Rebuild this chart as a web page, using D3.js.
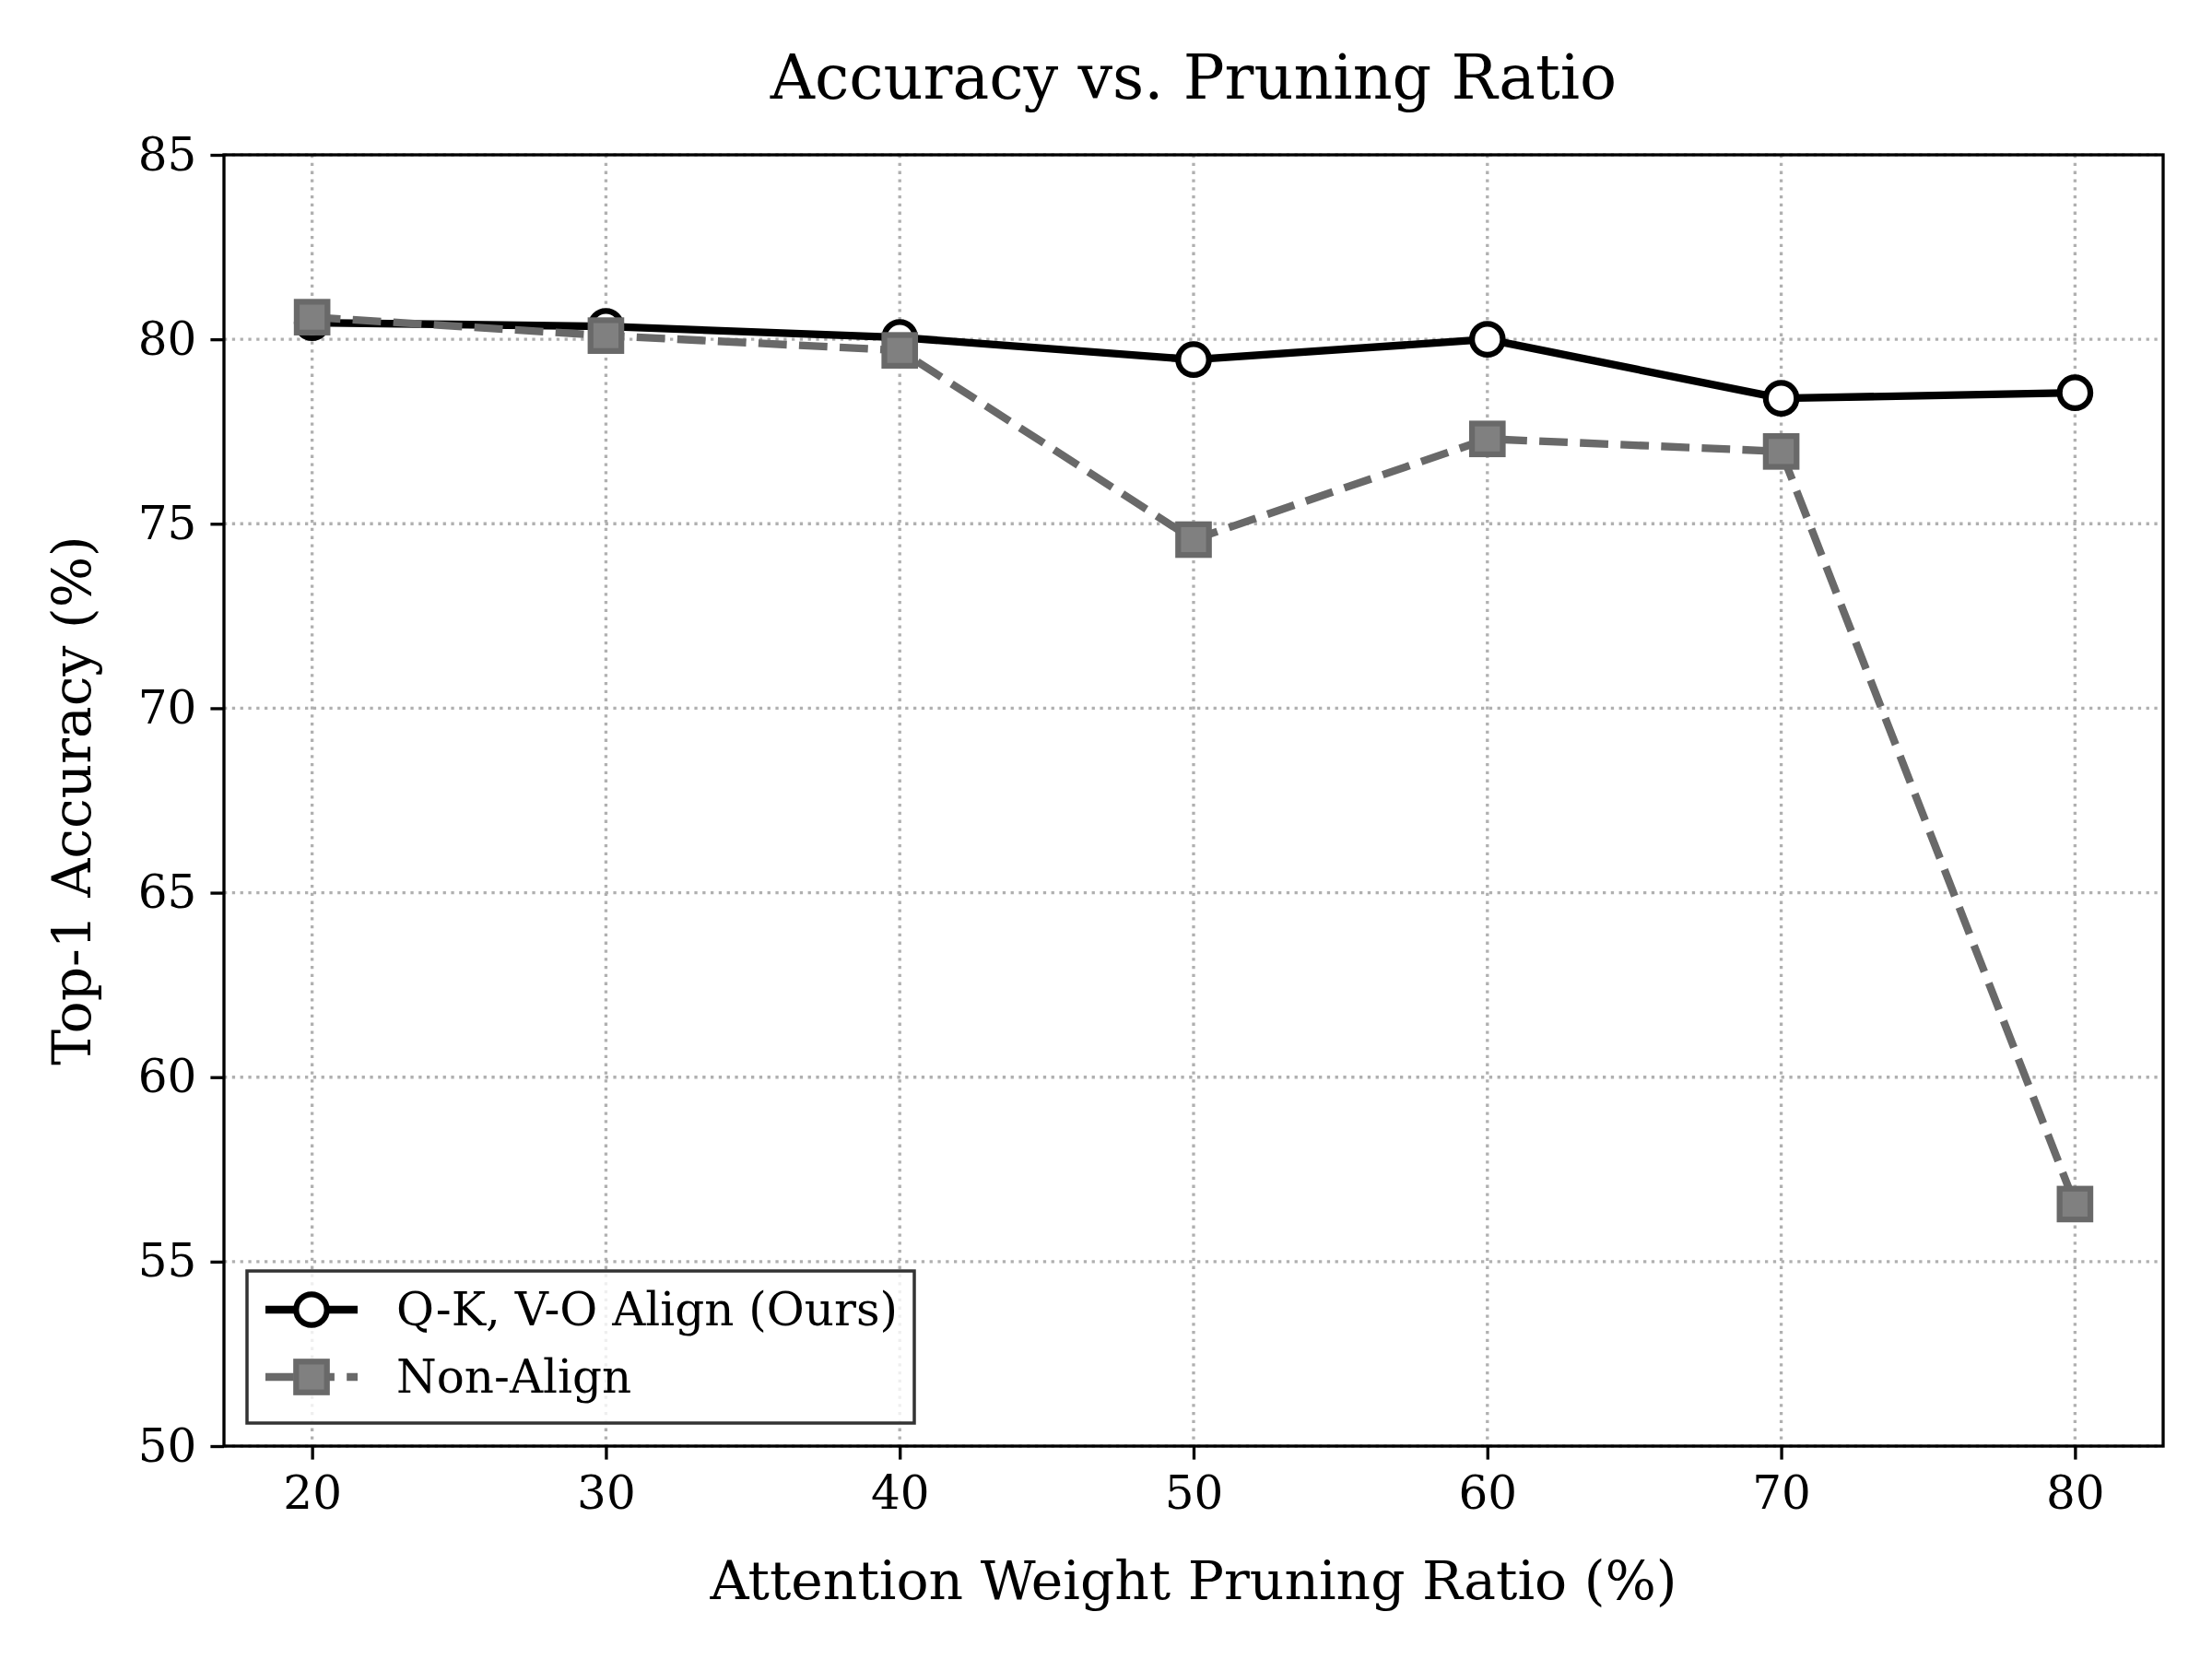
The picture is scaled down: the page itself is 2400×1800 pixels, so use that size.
<!DOCTYPE html>
<html>
<head>
<meta charset="utf-8"/>
<script src="https://d3js.org/d3.v7.min.js"></script>
<style>
  body { margin: 0; background: #ffffff; }
  text { font-family: "DejaVu Serif", serif; }
</style>
</head>
<body>
<script>
 // data
 var ratios = [20, 30, 40, 50, 60, 70, 80];
 var oursAcc = [80.45, 80.35, 80.05, 79.45, 80.0, 78.4, 78.55];
 var nonAlignAcc = [80.6, 80.1, 79.7, 74.57, 77.3, 76.96, 56.56];
 var xTicks = [20, 30, 40, 50, 60, 70, 80];
 var yTicks = [50, 55, 60, 65, 70, 75, 80, 85];
 var seriesNames = ["Q-K, V-O Align (Ours)", "Non-Align"];

 //globals (note: "top" is taken by window.top, so use plot* names)
 var W = 2400, H = 1800;
 var plotL = 243, plotR = 2347, plotT = 168, plotB = 1569;
 var lw = 8.33;          // 2pt at 300dpi
 var gridW = 3.33;       // 0.8pt

 var svg = d3.select("body").append("svg")
   .attr("width", W)
   .attr("height", H);

 svg.append("rect").attr("width", W).attr("height", H).attr("fill", "#fff");

 var x = d3.scaleLinear().domain([17, 83]).range([plotL, plotR]);
 var y = d3.scaleLinear().domain([50, 85]).range([plotB, plotT]);

 // grid lines
 var grid = svg.append("g");
 grid.selectAll("line.vx").data(xTicks).enter().append("line")
   .attr("class", "vx")
   .attr("x1", d => x(d)).attr("x2", d => x(d))
   .attr("y1", plotT).attr("y2", plotB);
 grid.selectAll("line.hy").data(yTicks).enter().append("line")
   .attr("class", "hy")
   .attr("x1", plotL).attr("x2", plotR)
   .attr("y1", d => y(d)).attr("y2", d => y(d));
 grid.selectAll("line")
   .attr("stroke", "#b0b0b0")
   .attr("stroke-width", gridW)
   .attr("stroke-dasharray", "3.3,5.5");

 // axes
 var xAxis = svg.append("g")
   .attr("transform", "translate(0," + plotB + ")")
   .call(d3.axisBottom(x).tickValues(xTicks).tickSize(14.6).tickPadding(18).tickSizeOuter(0));
 var yAxis = svg.append("g")
   .attr("transform", "translate(" + plotL + ",0)")
   .call(d3.axisLeft(y).tickValues(yTicks).tickSize(14.6).tickPadding(15).tickSizeOuter(0));

 [xAxis, yAxis].forEach(function(a){
   a.select(".domain").remove();
   a.selectAll(".tick line").attr("stroke", "#000").attr("stroke-width", gridW);
   a.selectAll(".tick text")
     .attr("fill", "#000")
     .style("font-family", "DejaVu Serif")
     .style("font-size", "50px");
 });

 // series lines
 var line = d3.line()
   .x(function(d, i){ return x(ratios[i]); })
   .y(function(d){ return y(d); });

 // ours: solid black, white circles
 svg.append("path")
   .datum(oursAcc)
   .attr("d", line)
   .attr("fill", "none")
   .attr("stroke", "#000")
   .attr("stroke-width", lw)
   .attr("stroke-linejoin", "round");
 svg.append("g").selectAll("circle")
   .data(oursAcc)
   .enter()
   .append("circle")
   .attr("cx", function(d, i){ return x(ratios[i]); })
   .attr("cy", function(d){ return y(d); })
   .attr("r", 16.7)
   .attr("fill", "#fff")
   .attr("stroke", "#000")
   .attr("stroke-width", 6.25);

 // non-align: dashed gray, gray squares
 svg.append("path")
   .datum(nonAlignAcc)
   .attr("d", line)
   .attr("fill", "none")
   .attr("stroke", "#696969")
   .attr("stroke-width", lw)
   .attr("stroke-dasharray", "30.8,13.3");
 svg.append("g").selectAll("rect")
   .data(nonAlignAcc)
   .enter()
   .append("rect")
   .attr("x", function(d, i){ return x(ratios[i]) - 16.7; })
   .attr("y", function(d){ return y(d) - 16.7; })
   .attr("width", 33.4)
   .attr("height", 33.4)
   .attr("fill", "#808080")
   .attr("stroke", "#696969")
   .attr("stroke-width", 6.25);

 // frame
 svg.append("rect")
   .attr("x", plotL).attr("y", plotT)
   .attr("width", plotR - plotL).attr("height", plotB - plotT)
   .attr("fill", "none")
   .attr("stroke", "#000")
   .attr("stroke-width", gridW);

 // title + labels
 svg.append("text")
   .attr("x", (plotL + plotR) / 2).attr("y", 107)
   .attr("text-anchor", "middle")
   .style("font-size", "66.7px")
   .text("Accuracy vs. Pruning Ratio");

 svg.append("text")
   .attr("x", (plotL + plotR) / 2).attr("y", 1735)
   .attr("text-anchor", "middle")
   .style("font-size", "58.3px")
   .text("Attention Weight Pruning Ratio (%)");

 svg.append("text")
   .attr("transform", "translate(98," + ((plotT + plotB) / 2) + ") rotate(-90)")
   .attr("text-anchor", "middle")
   .style("font-size", "58.3px")
   .text("Top-1 Accuracy (%)");

 // legend
 var leg = svg.append("g");
 leg.append("rect")
   .attr("x", 268).attr("y", 1379)
   .attr("width", 724).attr("height", 165)
   .attr("fill", "#fff")
   .attr("fill-opacity", 0.8)
   .attr("stroke", "#333")
   .attr("stroke-width", 3.5);

 var rowY = [1421, 1494];
 // row 1
 leg.append("line")
   .attr("x1", 288).attr("x2", 388).attr("y1", rowY[0]).attr("y2", rowY[0])
   .attr("stroke", "#000").attr("stroke-width", lw);
 leg.append("circle")
   .attr("cx", 338).attr("cy", rowY[0]).attr("r", 16.7)
   .attr("fill", "#fff").attr("stroke", "#000").attr("stroke-width", 6.25);
 // row 2
 leg.append("line")
   .attr("x1", 288).attr("x2", 388).attr("y1", rowY[1]).attr("y2", rowY[1])
   .attr("stroke", "#696969").attr("stroke-width", lw)
   .attr("stroke-dasharray", "30.8,13.3");
 leg.append("rect")
   .attr("x", 338 - 16.7).attr("y", rowY[1] - 16.7)
   .attr("width", 33.4).attr("height", 33.4)
   .attr("fill", "#808080").attr("stroke", "#696969").attr("stroke-width", 6.25);

 leg.selectAll("text.lab")
   .data(seriesNames)
   .enter()
   .append("text")
   .attr("class", "lab")
   .attr("x", 430)
   .attr("y", function(d, i){ return rowY[i] + 17; })
   .style("font-size", "50px")
   .text(function(d){ return d; });
</script>
</body>
</html>
